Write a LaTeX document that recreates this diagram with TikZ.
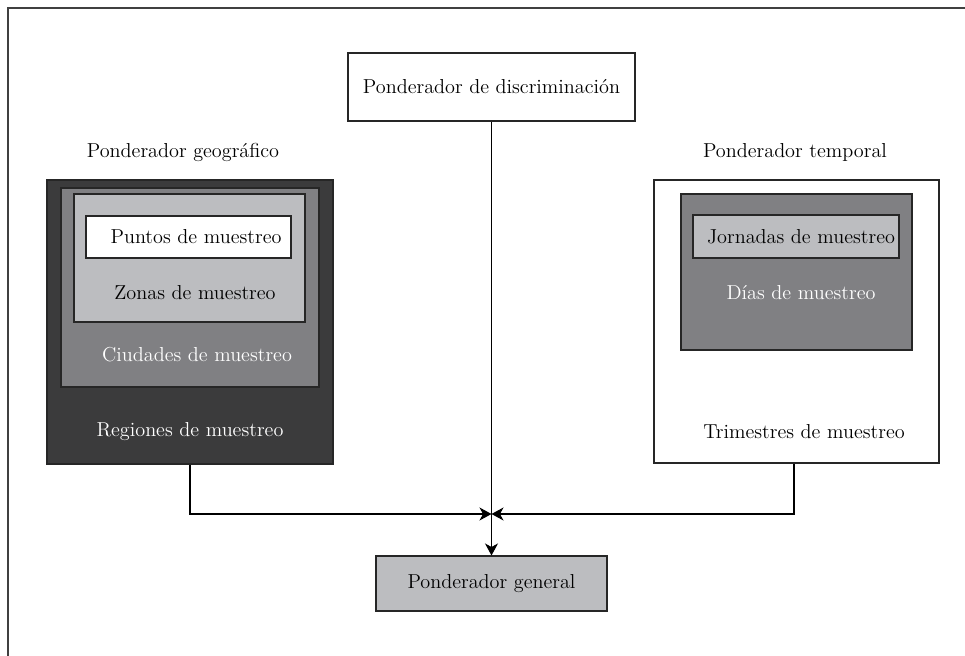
\documentclass[tikz,border=0pt]{standalone}
\usepackage{tikz}
\usetikzlibrary{arrows.meta,fit}
\definecolor{darkgr}{HTML}{3B3B3C}
\definecolor{midgr}{HTML}{808083}
\definecolor{lightgr}{HTML}{BCBDC0}

\begin{document}
\begin{tikzpicture}[x=0.02cm,y=-0.02cm,>={Stealth[length=2.4mm,width=2.6mm,inset=0.7mm]},
	box/.style={draw=black!85, line width=0.6pt, inner sep=0pt},
	lbl/.style={font=\fontsize{11.5}{13}\selectfont, inner sep=0pt},
	wlbl/.style={lbl, text=white}]
	\useasboundingbox (0,0) rectangle (965,656);
	% Frame
	\draw[line width=1.1pt, black!75] (8,656) -- (8,8) -- (965,8);
	
	% Nodes
	\node[box, fill=white, fit={(348,53) (635,121)}] (discriminacion) {};
	\node[lbl] (tdiscr) at (discriminacion) {Ponderador de discriminaci\'on};
	
	\node[lbl] (geo) at (183,152) {Ponderador geogr\'afico};
	\node[box, fill=darkgr, fit={(47,180) (333,464)}] (regiones) {};
	\node[box, fill=midgr, fit={(61,188) (319,387)}] (ciudades) {};
	\node[box, fill=lightgr, fit={(74,194) (305,322)}] (zonas) {};
	\node[box, fill=white, fit={(86,216) (291,258)}] (puntos) {};
	\node[lbl] (tpuntos) at (196,237) {Puntos de muestreo};
	\node[lbl] (tzonas) at (195,293) {Zonas de muestreo};
	\node[wlbl] (tciudades) at (197,355) {Ciudades de muestreo};
	\node[wlbl] (tregiones) at (190,432) {Regiones de muestreo};
	
	\node[lbl] (temp) at (795,152) {Ponderador temporal};
	\node[box, fill=white, fit={(654,180) (939,463)}] (trimestres) {};
	\node[box, fill=midgr, fit={(681,194) (912,350)}] (dias) {};
	\node[box, fill=lightgr, fit={(693,215) (899,258)}] (jornadas) {};
	\node[lbl] (tjornadas) at (801,237) {Jornadas de muestreo};
	\node[wlbl] (tdias) at (801,293) {D\'ias de muestreo};
	\node[lbl] (ttrimestres) at (804,432) {Trimestres de muestreo};
	
	\node[box, fill=lightgr, fit={(376,556) (607,611)}] (general) {};
	\node[lbl] (tgeneral) at (general) {Ponderador general};
	
	\coordinate (junta) at (491.5,514);
	
	% Connectors
	\draw[->, line width=0.6pt] (discriminacion) -- (general);
	\draw[->, line width=0.6pt] (regiones) |- (junta);
	\draw[->, line width=0.6pt] (trimestres.south -| 794,0) |- (junta);
	
\end{tikzpicture}
\end{document}
